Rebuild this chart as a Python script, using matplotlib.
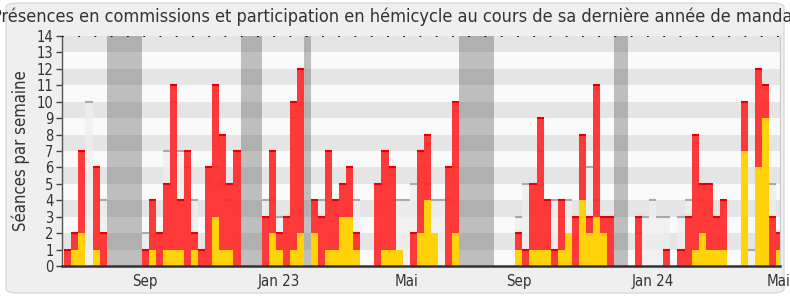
import matplotlib
matplotlib.use("Agg")
import matplotlib.pyplot as plt
from matplotlib.patches import FancyBboxPatch
import numpy as np

# Weekly data (week index 0..101)
commission = [1, 2, 7, 0, 6, 2, 0, 0, 0, 0, 0,
              1, 4, 2, 5, 11, 4, 7, 2, 1, 6, 11, 8, 5, 7,
              0, 0, 0,
              3, 7, 2, 3, 10, 12,
              0,
              4, 3, 7, 4, 5, 6, 2, 0, 0, 5, 7, 6, 0, 0, 2, 7, 8, 0, 0, 6, 10,
              0, 0, 0, 0, 0,
              0, 0, 0, 2, 1, 5, 9, 4, 1, 4, 0, 3, 8, 3, 11, 3, 3,
              0, 0,
              0, 3, 0, 0, 0, 1, 0, 1, 3, 8, 5, 5, 3, 4, 0, 0, 10, 0, 12, 11, 3, 2]
hemicycle = [0, 1, 2, 0, 1, 0, 0, 0, 0, 0, 0,
             0, 1, 0, 1, 1, 1, 0, 1, 0, 0, 3, 1, 1, 0,
             0, 0, 0,
             0, 2, 1, 0, 1, 2,
             0,
             2, 0, 1, 1, 3, 3, 1, 0, 0, 0, 1, 1, 1, 0, 0, 2, 4, 2, 0, 0, 2,
             0, 0, 0, 0, 0,
             0, 0, 0, 1, 0, 1, 1, 1, 0, 1, 2, 0, 4, 2, 3, 2, 0,
             0, 0,
             0, 0, 0, 0, 0, 0, 0, 0, 0, 1, 2, 1, 1, 1, 0, 0, 7, 0, 6, 9, 0, 1]
other = [0, 0, 0, 10, 0, 4, 0, 0, 0, 0, 0,
         2, 0, 0, 7, 10, 7, 6, 4, 0, 5, 6, 5, 4, 0,
         0, 0, 0,
         4, 4, 3, 0, 9, 0,
         0,
         0, 4, 5, 0, 0, 5, 4, 0, 0, 0, 5, 4, 4, 4, 5, 0, 5, 4, 4, 4, 6,
         0, 0, 0, 0, 0,
         0, 0, 0, 3, 5, 0, 7, 0, 4, 3, 4, 0, 0, 6, 4, 0, 0,
         0, 0,
         0, 2, 3, 4, 3, 3, 0, 3, 4, 5, 4, 0, 0, 0, 0, 0, 0, 1, 0, 0, 5, 0]
recess = [(6, 11), (25, 28), (34, 35), (56, 61), (78, 80)]
tick_pos = [11.5, 30.5, 48.5, 64.5, 83.5, 101.3]
tick_labels = ["Sep", "Jan 23", "Mai", "Sep", "Jan 24", "Mai"]
title = "Présences en commissions et participation en hémicycle au cours de sa dernière année de mandat"

plt.rcParams['font.family'] = ['DejaVu Sans']
plt.rcParams['font.stretch'] = 'condensed'

fig = plt.figure(figsize=(7.9, 3.0), dpi=100, facecolor='white')
box = FancyBboxPatch((6 / 790, 7 / 300), 778 / 790, 290 / 300,
                     boxstyle="round,pad=0,rounding_size=0.015",
                     transform=fig.transFigure, facecolor='#efefef',
                     edgecolor='#dadada', lw=1, zorder=-10)
fig.patches.append(box)

ax = fig.add_axes([62 / 790, 34 / 300, 718 / 790, 230 / 300])
ax.set_zorder(1)
ax.set_facecolor('#fafafa')

x = np.arange(len(commission))

for i in range(1, 14, 2):
    ax.axhspan(i, i + 1, color='#e5e5e5', lw=0, zorder=0)

for s, e in recess:
    ax.axvspan(s, e, color='#464646', alpha=0.33, lw=0, zorder=1)

oth = np.array(other)
com = np.array(commission)
hem = np.array(hemicycle)

ax.bar(x, oth, width=1, align='edge', color='#efefef', alpha=0.75, lw=0, zorder=2)
mo = oth > 0
ax.hlines(oth[mo], x[mo], x[mo] + 1, color='#aaaaaa', lw=1.5, zorder=2.5)

ax.bar(x, com, width=1, align='edge', color='#ff2525', alpha=0.9, lw=0, zorder=3)
mc = com > 0
ax.hlines(com[mc], x[mc], x[mc] + 1, color='#e60000', lw=1.5, zorder=3.5)

ax.bar(x, hem, width=1, align='edge', color='#ffd20a', lw=0, zorder=4)

ax.axhline(14, color='black', ls=(0, (1, 8)), lw=1.3, zorder=5)

ax.set_xlim(-0.33, 101.55)
ax.set_ylim(0, 14)
ax.set_yticks(range(0, 15))
ax.set_xticks(tick_pos)
ax.set_xticklabels(tick_labels)
ax.tick_params(axis='x', length=0, labelsize=10.8, pad=6)
ax.tick_params(axis='y', length=4, width=1, labelsize=10.5, colors='#444444', pad=2)
for lab in ax.get_yticklabels() + ax.get_xticklabels():
    lab.set_color('#333333')

ax.spines['top'].set_visible(False)
ax.spines['right'].set_color('#cccccc')
ax.spines['bottom'].set_color('#333333')
ax.spines['bottom'].set_linewidth(1.8)
ax.spines['left'].set_color('#555555')
ax.spines['left'].set_linewidth(1)
ax.spines['bottom'].set_zorder(6)

ax.set_ylabel("Séances par semaine", fontsize=12, color='#333333', labelpad=5)

fig.text(0.5, 0.943, title, ha='center', va='center', fontsize=13, color='#333333')

fig.savefig("out.png", dpi=100, facecolor='white')
